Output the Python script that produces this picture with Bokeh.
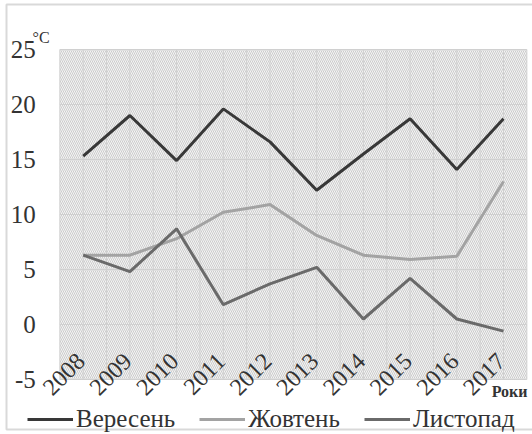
from math import pi
from bokeh.plotting import figure
from bokeh.models import Range1d, ColumnDataSource, Label, Legend, LegendItem, BoxAnnotation
from bokeh.core.properties import value
from bokeh.embed import file_html
from bokeh.resources import INLINE

years = ["2008", "2009", "2010", "2011", "2012", "2013", "2014", "2015", "2016", "2017"]
veresen = [15.3, 19.0, 14.9, 19.6, 16.6, 12.2, 15.5, 18.7, 14.1, 18.7]
zhovten = [6.3, 6.3, 7.8, 10.2, 10.9, 8.1, 6.3, 5.9, 6.2, 13.0]
lystopad = [6.3, 4.8, 8.7, 1.8, 3.7, 5.2, 0.5, 4.2, 0.5, -0.6]
series_names = ["Вересень", "Жовтень", "Листопад"]
y_ticks = [-5, 0, 5, 10, 15, 20, 25]
unit_label = "°C"
x_title = "Роки"

SERIF = "Liberation Serif"
TXT = "#333333"
GRID = "#d0d0d0"
n = len(years)
xs = list(range(n))
x_lo, x_hi = -0.5, n - 0.5
y_lo, y_hi = y_ticks[0], y_ticks[-1]

p = figure(width=532, height=434, output_backend="svg", toolbar_location=None,
           x_range=Range1d(-1.771, 9.621), y_range=Range1d(-10.0, 29.4545),
           min_border=0)
p.axis.visible = False
p.grid.visible = False
p.outline_line_color = None
p.background_fill_color = "white"

# outer chart border
p.add_layout(BoxAnnotation(left=6, right=545, top=5, bottom=430,
                           left_units="screen", right_units="screen",
                           top_units="screen", bottom_units="screen",
                           fill_color=None, fill_alpha=0, line_color="#d9d9d9",
                           line_width=2, line_alpha=1))

# hatched plot area
p.quad(left=x_lo, right=x_hi, bottom=y_lo, top=y_hi, fill_color="#f4f4f4",
       line_color=None, hatch_pattern="\\", hatch_color="#cccccc", hatch_scale=4,
       hatch_weight=1)

# grid lines (half-category vertical, one per tick horizontal)
gx = [x_lo + k / 2 for k in range(2 * n + 1)]
p.segment(x0=gx, y0=[y_lo] * len(gx), x1=gx, y1=[y_hi] * len(gx),
          line_color=GRID, line_width=1)
p.segment(x0=[x_lo] * len(y_ticks), y0=y_ticks, x1=[x_hi] * len(y_ticks), y1=y_ticks,
          line_color=GRID, line_width=1)

# y tick labels
p.text(x=[x_lo] * len(y_ticks), y=y_ticks, text=[str(t) for t in y_ticks],
       x_offset=-24, text_align="right", text_baseline="middle",
       text_font=value(SERIF), text_font_size="25px", text_color=TXT)

r1 = p.line(xs, veresen, line_color="#383838", line_width=3)
r2 = p.line(xs, zhovten, line_color="#a3a3a3", line_width=3)
r3 = p.line(xs, lystopad, line_color="#6a6a6a", line_width=3)

# year labels
src = ColumnDataSource(dict(x=xs, y=[-3.0] * n, t=years))
p.text(x="x", y="y", text="t", source=src, angle=pi / 4,
       text_align="right", text_baseline="middle", x_offset=-2,
       text_font=value(SERIF), text_font_size="24px", text_color=TXT)

p.add_layout(Label(x=-1.086, y=26.09, text=unit_label, text_font=SERIF,
                   text_font_size="16px", text_color=TXT, text_baseline="alphabetic"))
p.add_layout(Label(x=9.514, y=-6.09, text=x_title, text_font=SERIF,
                   text_font_size="16px", text_font_style="bold", text_color=TXT,
                   text_align="right", text_baseline="alphabetic"))

legend = Legend(items=[LegendItem(label=series_names[0], renderers=[r1]),
                       LegendItem(label=series_names[1], renderers=[r2]),
                       LegendItem(label=series_names[2], renderers=[r3])],
                location=(27, 1), orientation="horizontal",
                glyph_width=46, label_standoff=3, spacing=24, padding=0, margin=0,
                border_line_color=None, background_fill_alpha=0,
                label_text_font=SERIF, label_text_font_size="25px",
                label_text_color=TXT)
p.add_layout(legend, "center")

open("out.html", "w").write(file_html(p, INLINE))
